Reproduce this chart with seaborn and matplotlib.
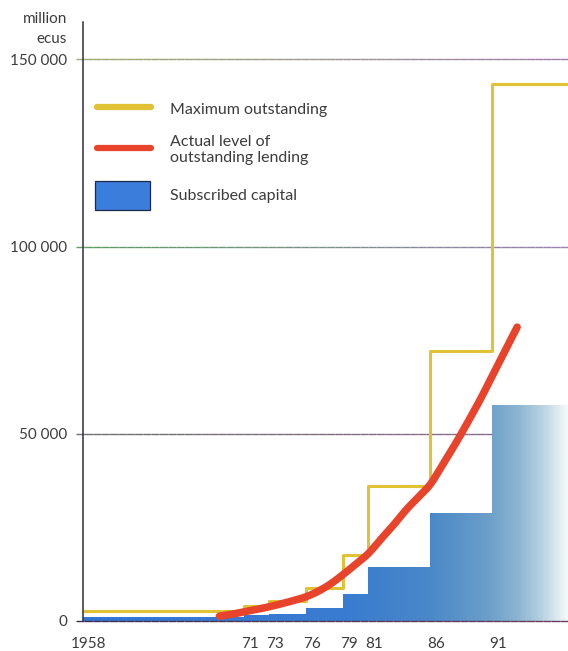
import numpy as np
import matplotlib
matplotlib.use("Agg")
import matplotlib.pyplot as plt
import seaborn as sns
from matplotlib.colors import LinearSegmentedColormap, to_rgb
from matplotlib.collections import LineCollection
from matplotlib.lines import Line2D
from matplotlib.patches import Rectangle
from matplotlib.transforms import blended_transform_factory

sns.set_theme(style="white")
plt.rcParams["font.family"] = ["Lato", "DejaVu Sans"]

# Capital steps (million ecus)
step_years = [1958, 1971, 1973, 1976, 1979, 1981, 1986, 1991]
max_outstanding = [2800, 4100, 5300, 8800, 17700, 36000, 72000, 143500]
subscribed_capital = [1000, 1500, 2000, 3500, 7100, 14400, 28800, 57600]

# Outstanding lending, end of year (million ecus)
lending_years = list(range(1969, 1994))
actual_lending = [1300, 1800, 2500, 3100, 3800, 4600, 5500, 6500, 8000, 10000,
                  12500, 15200, 18000, 21800, 25500, 29500, 33000, 36500,
                  41800, 47200, 53000, 59000, 65500, 72000, 78500]

tick_years = [1958, 1971, 1973, 1976, 1979, 1981, 1986, 1991]
tick_labels = ["1958", "71", "73", "76", "79", "81", "86", "91"]
y_ticks = [0, 50000, 100000, 150000]
y_tick_labels = ["0", "50 000", "100 000", "150 000"]

W, H = 568, 651
X_END = 1997.1
TEXT = "#3c3c3c"


def fig_xy(px, py):
    return px / W, 1 - py / H


def catmull_rom(x, y, n=24):
    x = np.asarray(x, float)
    y = np.asarray(y, float)
    px = np.concatenate([[2 * x[0] - x[1]], x, [2 * x[-1] - x[-2]]])
    py = np.concatenate([[2 * y[0] - y[1]], y, [2 * y[-1] - y[-2]]])
    t = np.linspace(0, 1, n, endpoint=False)[:, None]
    out_x, out_y = [], []
    for i in range(1, len(px) - 2):
        for arr, out in ((px, out_x), (py, out_y)):
            p0, p1, p2, p3 = arr[i - 1], arr[i], arr[i + 1], arr[i + 2]
            v = 0.5 * ((2 * p1) + (-p0 + p2) * t +
                       (2 * p0 - 5 * p1 + 4 * p2 - p3) * t ** 2 +
                       (-p0 + 3 * p1 - 3 * p2 + p3) * t ** 3)
            out.extend(v.ravel())
    out_x.append(x[-1])
    out_y.append(y[-1])
    return np.array(out_x), np.array(out_y)


fig = plt.figure(figsize=(W / 100, H / 100), dpi=100)
ax = fig.add_axes([83 / W, 1 - 621 / H, 1 - 83 / W, (621 - 22) / H])

# Horizontal reference lines, drifting from green to purple
trans = blended_transform_factory(ax.transAxes, ax.transData)
grid_cols = {0: ("#3a3050", "#6a3c60"),
             50000: ("#6e6e6e", "#8a6a8c"),
             100000: ("#5e9e62", "#9a82b2"),
             150000: ("#9aaa70", "#a07cac")}
xs_g = np.linspace(-7 / 485, 1, 60)
for yv, (c0, c1) in grid_cols.items():
    segs = [[(xs_g[i], yv), (xs_g[i + 1], yv)] for i in range(len(xs_g) - 1)]
    c0, c1 = np.array(to_rgb(c0)), np.array(to_rgb(c1))
    cols = [c0 + (c1 - c0) * f for f in np.linspace(0, 1, len(segs))]
    lc = LineCollection(segs, colors=cols, linewidths=1.0, transform=trans,
                        zorder=4 if yv == 0 else 0.5, clip_on=False)
    ax.add_collection(lc)

# Subscribed capital: stepped area with a fading blue gradient
cap_x = step_years + [X_END]
cap_y = subscribed_capital + [subscribed_capital[-1]]
poly = ax.fill_between(cap_x, cap_y, step="post", color="none", lw=0)
blue_cmap = LinearSegmentedColormap.from_list(
    "capital",
    [(0.0, "#3476d6"), (0.55, "#3a7cd0"), (0.715, "#4a88c8"),
     (0.84, "#6c9fca"), (0.90, "#8db5d2"), (0.95, "#b8d2e2"), (1.0, "#f4f8fa")])
grad = np.linspace(0, 1, 600)[None, :]
im = ax.imshow(grad, extent=(1958, X_END, 0, max(subscribed_capital) * 1.05),
               aspect="auto", cmap=blue_cmap, origin="lower", zorder=1,
               interpolation="bilinear")
im.set_clip_path(poly.get_paths()[0], transform=ax.transData)

# Maximum outstanding: stepped line
max_y = max_outstanding + [max_outstanding[-1]]
sns.lineplot(x=cap_x, y=max_y, drawstyle="steps-post", color="#e0c234",
             lw=2.2, ax=ax, zorder=2)

# Actual level of outstanding lending: smooth curve
sx, sy = catmull_rom(lending_years, actual_lending)
sns.lineplot(x=sx, y=sy, sort=False, color="#e8432b", lw=5.4,
             solid_capstyle="round", ax=ax, zorder=3)

ax.set_xlim(1958, X_END)
ax.set_ylim(0, 160000)

for side in ("top", "right", "bottom"):
    ax.spines[side].set_visible(False)
ax.spines["left"].set_color("#2d2d45")
ax.spines["left"].set_linewidth(1.1)
ax.spines["left"].set_zorder(5)

ax.set_yticks(y_ticks, y_tick_labels)
ax.set_xticks([y + 0.45 for y in tick_years], tick_labels)
ax.tick_params(axis="y", length=0, pad=11.5, labelsize=11, labelcolor=TEXT)
ax.tick_params(axis="x", length=0, pad=11.5, labelsize=11, labelcolor=TEXT)
ax.grid(False)

fig.text(*fig_xy(67, 29), "million\necus", ha="right", va="center",
         multialignment="right", fontsize=11, color=TEXT, linespacing=1.5)

# Legend
tf = fig.transFigure
x0, y0 = fig_xy(97, 107)
x1, _ = fig_xy(151, 107)
fig.add_artist(Line2D([x0, x1], [y0, y0], color="#e0c234", lw=4.5, transform=tf))
x0, y0 = fig_xy(97, 148)
fig.add_artist(Line2D([x0, x1], [y0, y0], color="#e8432b", lw=4.5, transform=tf))
rx, ry = fig_xy(95, 210)
fig.add_artist(Rectangle((rx, ry), 55 / W, 29 / H, facecolor="#3b7ddb",
                         edgecolor="#1d2a4a", lw=0.9, transform=tf))
fig.text(*fig_xy(170, 110), "Maximum outstanding", ha="left", va="center",
         fontsize=11.5, color=TEXT)
fig.text(*fig_xy(170, 150), "Actual level of\noutstanding lending", ha="left",
         va="center", fontsize=11.5, color=TEXT, linespacing=1.1)
fig.text(*fig_xy(170, 196), "Subscribed capital", ha="left", va="center",
         fontsize=11.5, color=TEXT)

fig.savefig("out.png", dpi=100)
